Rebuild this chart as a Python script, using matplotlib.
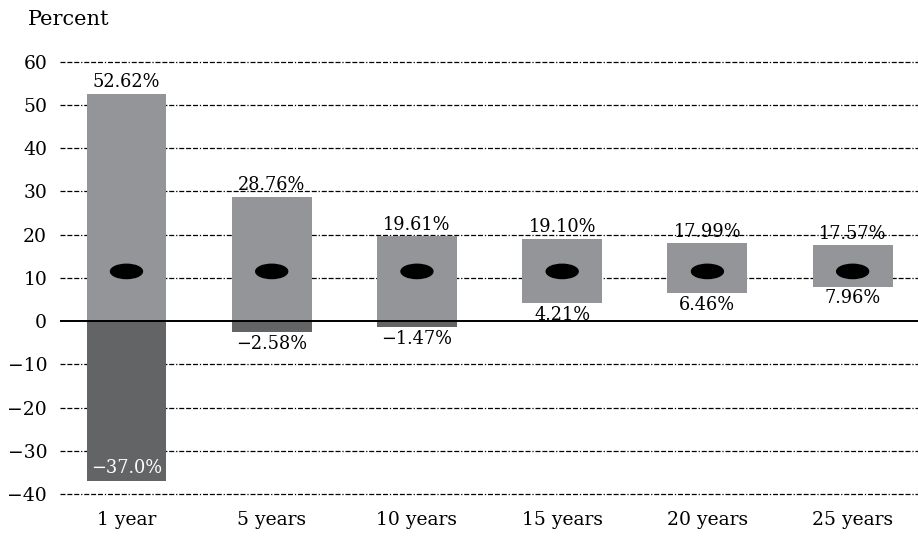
import matplotlib
matplotlib.use('Agg')
import matplotlib.pyplot as plt
from matplotlib.patches import Ellipse

# Range of annual returns by holding period
periods = ['1 year', '5 years', '10 years', '15 years', '20 years', '25 years']
highs = [52.62, 28.76, 19.61, 19.10, 17.99, 17.57]
lows = [-37.0, -2.58, -1.47, 4.21, 6.46, 7.96]
means = [11.5, 11.5, 11.5, 11.5, 11.5, 11.5]
high_labels = ['52.62%', '28.76%', '19.61%', '19.10%', '17.99%', '17.57%']
low_labels = ['\u221237.0%', '\u22122.58%', '\u22121.47%', '4.21%', '6.46%', '7.96%']
yticks = [60, 50, 40, 30, 20, 10, 0, -10, -20, -30, -40]

light = '#939598'
dark = '#636466'

plt.rcParams['font.family'] = ['DejaVu Serif']

fig = plt.figure(figsize=(9.18, 5.37), dpi=100)
ax = fig.add_axes([0.065, 0.08, 0.935, 0.805])

x = list(range(len(periods)))
w = 0.55

for i in x:
    lo, hi = lows[i], highs[i]
    # positive part light, negative part dark
    pos_bottom = max(lo, 0)
    ax.bar(i, hi - pos_bottom, bottom=pos_bottom, width=w, color=light, zorder=2)
    if lo < 0:
        ax.bar(i, -lo, bottom=lo, width=w, color=dark, zorder=2)
    ax.add_patch(Ellipse((i, means[i]), 0.22, 3.3, color='black', zorder=3))
    ax.text(i, hi + 0.6, high_labels[i], ha='center', va='bottom', fontsize=12.8, zorder=4)
    if i == 0:
        ax.text(i, lo + 1.0, low_labels[i], ha='center', va='bottom', fontsize=12.8,
                color='white', zorder=4)
    else:
        ax.text(i, lo - 0.6, low_labels[i], ha='center', va='top', fontsize=12.8, zorder=4)

for y in yticks:
    if y == 0:
        ax.axhline(0, color='black', lw=1.4, zorder=3)
    else:
        ax.axhline(y, color='black', lw=0.9, dashes=(4, 1.5, 4, 1.5, 4, 1.5, 1, 1.5),
                   zorder=1, clip_on=False)

ax.set_xlim(-0.46, 5.45)
ax.set_ylim(-40, 60)
ax.set_yticks(yticks)
ax.set_yticklabels([str(v).replace('-', '\u2212') for v in yticks])
ax.set_xticks(x)
ax.set_xticklabels(periods)
ax.tick_params(length=0, labelsize=13.5)
ax.tick_params(axis='y', pad=9)
ax.tick_params(axis='x', pad=12)
for s in ax.spines.values():
    s.set_visible(False)

fig.text(0.03, 0.963, 'Percent', fontsize=15, ha='left', va='center')

plt.savefig('out.png', dpi=100)
